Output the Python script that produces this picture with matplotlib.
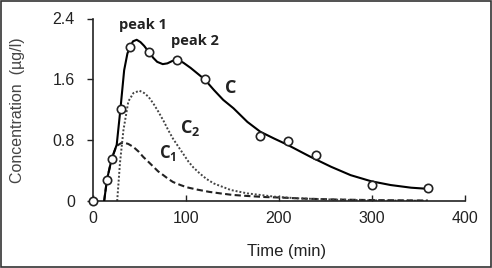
import matplotlib
matplotlib.use("Agg")
import matplotlib.pyplot as plt
from matplotlib.patches import Rectangle

# Observed data points
obs_t = [0, 15, 20, 30, 40, 60, 90, 120, 180, 210, 240, 300, 360]
obs_c = [0, 0.28, 0.55, 1.21, 2.02, 1.96, 1.86, 1.61, 0.86, 0.785, 0.60, 0.21, 0.175]

# Fitted total curve C
c_t = [12, 15, 20, 25.5, 29.5, 33.5, 37, 40, 43, 47, 51, 55, 60, 65, 69, 75, 80, 85, 90,
       97, 105, 112, 120, 130, 140, 151, 166, 180, 195, 209, 223, 234, 256, 277, 299,
       320, 342, 360]
c_y = [0, 0.28, 0.55, 0.74, 1.21, 1.72, 1.94, 2.03, 2.10, 2.12, 2.09, 2.04, 1.96, 1.88,
       1.83, 1.80, 1.81, 1.84, 1.86, 1.82, 1.75, 1.68, 1.60, 1.46, 1.33, 1.22, 1.04, 0.91,
       0.82, 0.74, 0.65, 0.58, 0.45, 0.34, 0.26, 0.21, 0.175, 0.16]

# Component C1 (dashed)
c1_t = [12, 15, 20, 25, 30, 34, 38, 43.5, 49, 54, 60, 65, 70, 75.6, 81, 86, 94, 101, 112,
        125, 137, 150, 166, 185, 202, 230, 260, 300, 360]
c1_y = [0, 0.28, 0.55, 0.72, 0.76, 0.765, 0.75, 0.71, 0.65, 0.58, 0.51, 0.45, 0.39, 0.34,
        0.29, 0.25, 0.21, 0.18, 0.15, 0.12, 0.10, 0.08, 0.066, 0.052, 0.045, 0.03, 0.02,
        0.012, 0.006]

# Component C2 (dotted)
c2_t = [26, 29, 32.7, 38, 43.5, 50, 55, 59.7, 65, 70.5, 76, 81, 86, 92, 97, 102.5, 108,
        115, 122, 130, 148, 166, 195, 220, 260, 300, 360]
c2_y = [0, 0.5, 0.93, 1.31, 1.42, 1.45, 1.42, 1.37, 1.28, 1.17, 1.05, 0.93, 0.82, 0.71,
        0.62, 0.52, 0.44, 0.36, 0.29, 0.23, 0.145, 0.10, 0.057, 0.035, 0.018, 0.008, 0.003]

x_ticks = [0, 100, 200, 300, 400]
y_ticks = [0, 0.8, 1.6, 2.4]
y_tick_labels = ["0", "0.8", "1.6", "2.4"]

plt.rcParams['font.family'] = ['Liberation Sans', 'DejaVu Sans']

fig = plt.figure(figsize=(4.92, 2.68), dpi=100)
ax = fig.add_axes([93/492, 1-201/268, (465-93)/492, (201-18.5)/268])

ax.plot(c1_t, c1_y, color='#222222', lw=1.5, ls=(0, (3, 1.6)), zorder=2)
ax.plot(c2_t, c2_y, color='#444444', lw=1.4, ls=(0, (1, 1)), zorder=2)
ax.plot(c_t, c_y, color='black', lw=1.5, zorder=3)
ax.plot(obs_t, obs_c, ls='none', marker='o', ms=6, mfc='white', mec='#222222',
        mew=1.2, zorder=4, clip_on=False)

ax.set_xlim(0, 400)
ax.set_ylim(0, 2.4)
ax.set_xticks(x_ticks)
ax.set_yticks(y_ticks)
ax.set_yticklabels(y_tick_labels)
ax.tick_params(axis='x', direction='in', length=4, width=1, labelsize=11.5, pad=7, colors='#222222')
ax.tick_params(axis='y', direction='out', length=4, width=1, labelsize=11.5, pad=9, colors='#222222')
for s in ['top', 'right']:
    ax.spines[s].set_visible(False)
for s in ['left', 'bottom']:
    ax.spines[s].set_linewidth(1.2)
    ax.spines[s].set_color('#222222')

ax.set_xlabel('Time (min)', fontsize=12, color='#222222')
ax.set_ylabel('Concentration  (µg/l)', fontsize=11.5, color='#444444')
ax.xaxis.set_label_coords(0.519, -0.235)
ax.yaxis.set_label_coords(-0.183, 0.5)

tf = dict(family=['Open Sans', 'DejaVu Sans'], fontweight='bold', color='#222222')
ax.text(54, 2.31, 'peak 1', ha='center', va='center', fontsize=10.5, **tf)
ax.text(110, 2.10, 'peak 2', ha='center', va='center', fontsize=10.5, **tf)
ax.text(148, 1.48, 'C', ha='center', va='center', fontsize=13, **tf)
ax.text(104, 0.96, r'C$_\mathregular{2}$', ha='center', va='center', fontsize=13, **tf)
ax.text(80, 0.63, r'C$_\mathregular{1}$', ha='center', va='center', fontsize=12, **tf)

fig.patches.append(Rectangle((0.002, 0.004), 0.995, 0.992, transform=fig.transFigure,
                             fill=False, edgecolor='#333333', lw=1.2))

fig.savefig('out.png', dpi=100)
